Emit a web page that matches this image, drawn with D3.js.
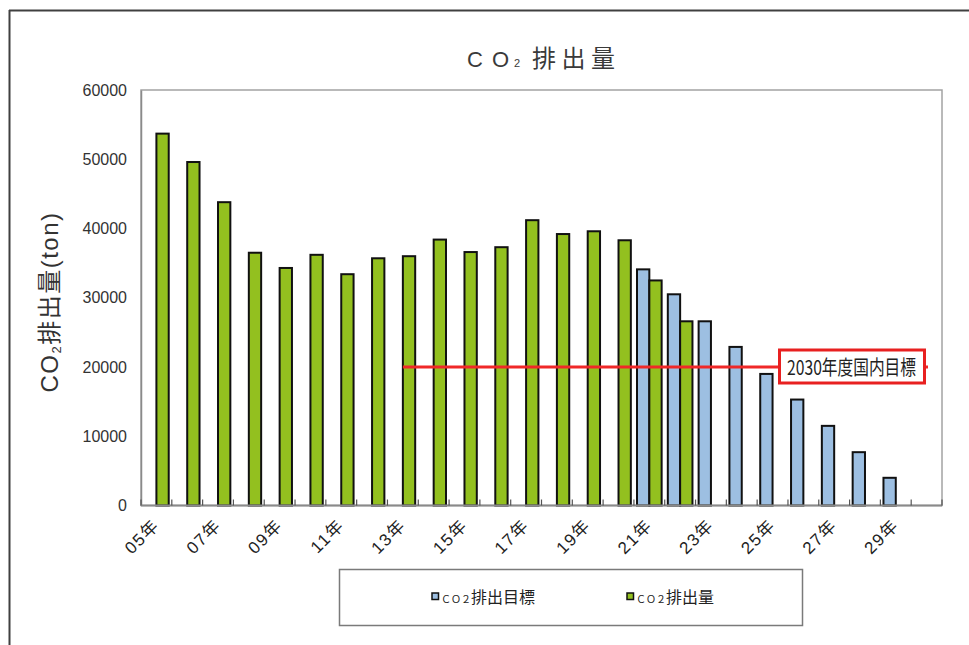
<!DOCTYPE html>
<html>
<head>
<meta charset="utf-8">
<script src="https://cdn.jsdelivr.net/npm/d3@7"></script>
<style>
  html, body { margin: 0; padding: 0; background: #fff; }
  svg { display: block; font-family: "Liberation Sans", "Noto Sans CJK JP", sans-serif; }
</style>
</head>
<body>
<svg id="chart" width="969" height="645"></svg>
<script>
// Fiscal years on the category axis
const years = ["05年","06年","07年","08年","09年","10年","11年","12年","13年","14年","15年","16年","17年","18年","19年","20年","21年","22年","23年","24年","25年","26年","27年","28年","29年","30年"];
// CO2 emission target (ton)
const targetValues = [null,null,null,null,null,null,null,null,null,null,null,null,null,null,null,null,34100,30500,26600,22900,19000,15300,11500,7700,4000,null];
// CO2 emissions actual (ton)
const actualValues = [53700,49600,43800,36500,34300,36200,33400,35700,36000,38400,36600,37300,41200,39200,39600,38300,32500,26600,null,null,null,null,null,null,null,null];
// Y axis ticks
const yTicks = [0,10000,20000,30000,40000,50000,60000];
// National 2030 goal line
const goalValue = 20000;
const goalStartYear = "13年";
const goalLabel = "2030年度国内目標";
// Series meta
const seriesKeys = ["target","actual"];
const seriesNames = {target: "排出目標", actual: "排出量"};
const seriesColors = {target: "#9dbfe2", actual: "#93c01f"};

const svg = d3.select("#chart");

// Outer chart frame
svg.append("line").attr("x1", 9).attr("x2", 969).attr("y1", 10.5).attr("y2", 10.5)
  .attr("stroke", "#404040").attr("stroke-width", 2);
svg.append("line").attr("x1", 9.5).attr("x2", 9.5).attr("y1", 10).attr("y2", 645)
  .attr("stroke", "#404040").attr("stroke-width", 2);

const plot = {left: 141, right: 942, top: 90, bottom: 505.5};

const x = d3.scaleBand().domain(years).range([plot.left, plot.right]).padding(0);
const xs = d3.scaleBand().domain(seriesKeys).range([x.bandwidth() * 0.1, x.bandwidth() * 0.9]).padding(0);
const y = d3.scaleLinear().domain([0, 60000]).range([plot.bottom, plot.top]);

// Title
const title = svg.append("text").attr("y", 67).attr("fill", "#3a3a3a");
title.append("tspan").attr("x", 467).attr("font-size", 22).text("C");
title.append("tspan").attr("x", 492).attr("font-size", 22).text("O");
title.append("tspan").attr("x", 514).attr("font-size", 11).text("2");
title.append("tspan").attr("x", 532)
  .attr("font-family", "Noto Sans CJK JP").attr("font-size", 24)
  .attr("textLength", 83).attr("lengthAdjust", "spacing").text("排出量");

// Plot frame
svg.append("rect")
  .attr("x", plot.left).attr("y", plot.top)
  .attr("width", plot.right - plot.left).attr("height", plot.bottom - plot.top)
  .attr("fill", "none").attr("stroke", "#a3a3a3").attr("stroke-width", 1.5);

// Y axis
const yAxis = d3.axisLeft(y).tickValues(yTicks).tickSize(0).tickPadding(14).tickFormat(d3.format("d"));
const yg = svg.append("g").attr("transform", `translate(${plot.left},0)`).call(yAxis);
yg.select(".domain").attr("stroke", "#8a8a8a").attr("stroke-width", 1.5);
yg.selectAll("text").attr("font-size", 16).attr("fill", "#333")
  .attr("font-family", "Liberation Sans");

// Bars
const groups = svg.append("g").selectAll("g")
  .data(years.map((yr, i) => ({year: yr, target: targetValues[i], actual: actualValues[i]})))
  .join("g")
  .attr("transform", d => `translate(${x(d.year)},0)`);

groups.selectAll("rect")
  .data(d => seriesKeys.filter(k => d[k] != null).map(k => ({key: k, value: d[k]})))
  .join("rect")
  .attr("x", d => xs(d.key))
  .attr("y", d => y(d.value))
  .attr("width", xs.bandwidth())
  .attr("height", d => y(0) - y(d.value))
  .attr("fill", d => seriesColors[d.key])
  .attr("stroke", "#111")
  .attr("stroke-width", 2);

// X axis line and inward ticks at category boundaries
svg.append("line").attr("x1", plot.left).attr("x2", plot.right)
  .attr("y1", plot.bottom).attr("y2", plot.bottom)
  .attr("stroke", "#8a8a8a").attr("stroke-width", 2);
const boundaries = years.map(d => x(d)).concat([plot.right]);
svg.append("g").selectAll("line").data(boundaries).join("line")
  .attr("x1", d => d).attr("x2", d => d)
  .attr("y1", plot.bottom).attr("y2", plot.bottom - 6)
  .attr("stroke", "#555").attr("stroke-width", 1.2);

// X labels (every other year), rotated
svg.append("g").selectAll("text")
  .data(years.filter((d, i) => i % 2 === 0 && i < 25))
  .join("text")
  .attr("transform", d => `translate(${x(d) + x.bandwidth() / 2 + 4},${plot.bottom + 21}) rotate(-45)`)
  .attr("text-anchor", "end")
  .attr("font-size", 17)
  .attr("letter-spacing", 1.5)
  .attr("fill", "#222")
  .text(d => d);

// Y axis title
const yt = svg.append("text")
  .attr("transform", `translate(58,302) rotate(-90)`)
  .attr("text-anchor", "middle")
  .attr("fill", "#333")
  .attr("letter-spacing", 1.5);
yt.append("tspan").attr("font-size", 24).text("CO");
yt.append("tspan").attr("font-size", 13).attr("dy", 3).text("2");
yt.append("tspan").attr("font-size", 24).attr("dy", -3)
  .attr("font-family", "Noto Sans CJK JP").text("排出量");
yt.append("tspan").attr("font-size", 24).text("(ton)");

// 2030 national goal line and label
const goalY = y(goalValue);
svg.append("line")
  .attr("x1", x(goalStartYear) + x.bandwidth() / 2).attr("x2", 928)
  .attr("y1", goalY).attr("y2", goalY)
  .attr("stroke", "#f02828").attr("stroke-width", 3);
svg.append("rect")
  .attr("x", 779.5).attr("y", goalY - 17).attr("width", 145).attr("height", 33)
  .attr("fill", "#fff").attr("stroke", "#e82020").attr("stroke-width", 3);
svg.append("text")
  .attr("x", 787).attr("y", goalY + 8)
  .attr("font-family", "Noto Sans CJK JP").attr("font-size", 20)
  .attr("fill", "#222")
  .attr("textLength", 129).attr("lengthAdjust", "spacingAndGlyphs")
  .text(goalLabel);

// Legend
svg.append("rect").attr("x", 339.5).attr("y", 569.5).attr("width", 463).attr("height", 56)
  .attr("fill", "#fff").attr("stroke", "#7a7a7a").attr("stroke-width", 1.5);
const legendX = {target: 432, actual: 627};
seriesKeys.forEach(k => {
  const lx = legendX[k];
  svg.append("rect").attr("x", lx).attr("y", 593).attr("width", 6.5).attr("height", 6.5)
    .attr("fill", seriesColors[k]).attr("stroke", "#111").attr("stroke-width", 1.5);
  const t = svg.append("text").attr("x", lx + 9).attr("y", 603)
    .attr("font-family", "Noto Sans CJK JP").attr("fill", "#222");
  t.append("tspan").attr("font-size", 10).text("ＣＯ２");
  t.append("tspan").attr("font-size", 16).text(seriesNames[k]);
});
</script>
</body>
</html>
